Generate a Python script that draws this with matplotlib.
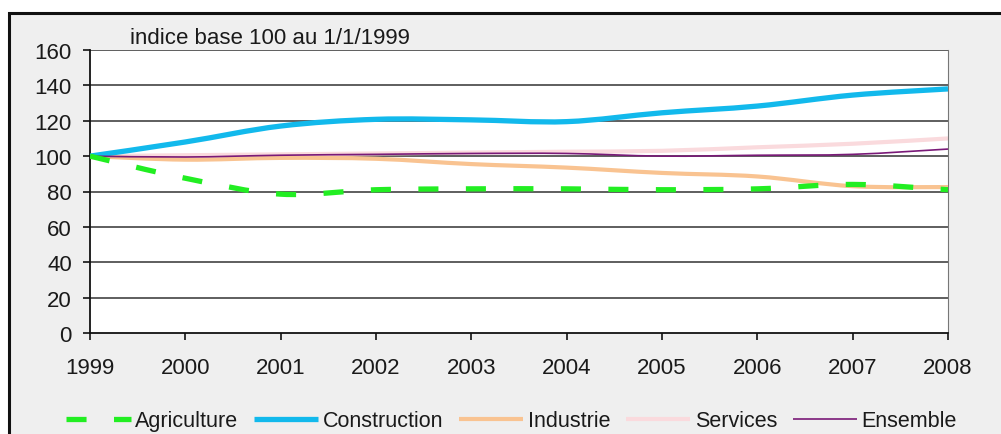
import matplotlib
matplotlib.use("Agg")
import matplotlib.pyplot as plt
from matplotlib.patches import Rectangle, PathPatch
from matplotlib.path import Path
from matplotlib.lines import Line2D

plt.rcParams['font.family'] = ['Liberation Sans', 'DejaVu Sans']

years = [1999, 2000, 2001, 2002, 2003, 2004, 2005, 2006, 2007, 2008]
agriculture = [100, 87.5, 78.5, 81, 81.5, 81.5, 81, 81.5, 84, 81]
construction = [100, 108, 117, 120.8, 120.5, 119.5, 124.5, 128.3, 134.5, 138]
industrie = [100, 98, 99, 98.5, 95.5, 93.5, 90.5, 88.5, 83, 82.5]
services = [100, 100.5, 101, 101.5, 102, 102.5, 103, 105, 107, 110]
ensemble = [100, 99.5, 100.5, 101, 101.5, 101.5, 100, 100.5, 101, 104]
y_ticks = [0, 20, 40, 60, 80, 100, 120, 140, 160]


def smooth_path(xs, ys):
    """Cubic Bezier path through the points (Catmull-Rom style control points)."""
    pts = list(zip(xs, ys))
    n = len(pts)
    verts = [pts[0]]
    codes = [Path.MOVETO]
    for i in range(n - 1):
        p0 = pts[i - 1] if i > 0 else pts[i]
        p1 = pts[i]
        p2 = pts[i + 1]
        p3 = pts[i + 2] if i + 2 < n else pts[i + 1]
        c1 = (p1[0] + (p2[0] - p0[0]) / 6, p1[1] + (p2[1] - p0[1]) / 6)
        c2 = (p2[0] - (p3[0] - p1[0]) / 6, p2[1] - (p3[1] - p1[1]) / 6)
        verts += [c1, c2, p2]
        codes += [Path.CURVE4] * 3
    return Path(verts, codes)


fig = plt.figure(figsize=(10.01, 4.35), dpi=100)
fig.patch.set_facecolor('white')

# grey panel with dark frame around the chart
frame = Rectangle((9 / 1001, -0.05), 1.2, (435 - 14) / 435 + 0.05,
                  transform=fig.transFigure, facecolor='#efefef',
                  edgecolor='#111111', linewidth=2.2, zorder=-5)
fig.patches.append(frame)

ax = fig.add_axes([90 / 1001, 101 / 435, (948 - 90) / 1001, (334 - 51) / 435])
ax.set_zorder(2)
ax.set_facecolor('white')
ax.set_xlim(1999, 2008)
ax.set_ylim(0, 160)
ax.set_yticks(y_ticks)
ax.set_xticks(years)
for v in y_ticks[1:]:
    ax.axhline(v, color='#333333', linewidth=1.1, zorder=1)

series = [
    ('Services', services, dict(color='#fadadd', linewidth=3.0), 2),
    ('Industrie', industrie, dict(color='#f9c391', linewidth=3.0), 3),
    ('Construction', construction, dict(color='#12b9ec', linewidth=3.8), 4),
    ('Ensemble', ensemble, dict(color='#7a1a78', linewidth=1.2), 5),
    ('Agriculture', agriculture, dict(color='#22ee22', linewidth=3.8,
                                      linestyle=(0, (3.8, 5.2))), 6),
]
proxies = {}
for name, vals, style, z in series:
    patch = PathPatch(smooth_path(years, vals), facecolor='none', edgecolor=style['color'],
                      linewidth=style['linewidth'], linestyle=style.get('linestyle', '-'),
                      capstyle='butt', zorder=z)
    ax.add_patch(patch)
    proxies[name] = Line2D([], [], color=style['color'], linewidth=style['linewidth'],
                           linestyle=style.get('linestyle', '-'), solid_capstyle='butt',
                           dash_capstyle='butt')

ax.spines['top'].set_visible(False)
ax.spines['right'].set_color('#777777')
ax.spines['left'].set_color('#111111')
ax.spines['bottom'].set_color('#111111')
ax.spines['left'].set_linewidth(1.3)
ax.spines['bottom'].set_linewidth(1.3)
ax.tick_params(axis='both', direction='out', length=5, width=1.2, colors='#111111',
               labelsize=16, labelcolor='#1a1a1a')
ax.tick_params(axis='y', pad=8)
ax.tick_params(axis='x', pad=12)

fig.text(130 / 1001, 1 - 39 / 435, 'indice base 100 au 1/1/1999', fontsize=16,
         color='#1a1a1a', va='center', ha='left', zorder=10)

order = ['Agriculture', 'Construction', 'Industrie', 'Services', 'Ensemble']
leg = fig.legend([proxies[k] for k in order], order, loc='center',
                 bbox_to_anchor=(0.511, 1 - 422 / 435), ncol=5, frameon=False,
                 fontsize=15.5, handlelength=3.0, handletextpad=0.2,
                 columnspacing=0.73, borderaxespad=0)
for t in leg.get_texts():
    t.set_color('#1a1a1a')

fig.savefig('out.png', dpi=100, facecolor=fig.get_facecolor())
